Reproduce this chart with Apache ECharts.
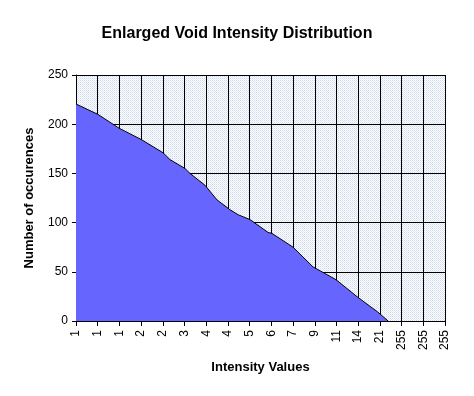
<!DOCTYPE html>
<html>
<head>
<meta charset="utf-8">
<script src="https://cdn.jsdelivr.net/npm/echarts@6/dist/echarts.min.js"></script>
<style>html,body{margin:0;padding:0;background:#fff;}#c{width:474px;height:396px;}</style>
</head>
<body>
<div id="c"></div>
<script>
// Category tick labels along the x axis
var tickLabels = ['1','1','1','2','2','3','4','4','5','6','7','9','11','14','21','255','255','255'];
// Curve positions (in tick-interval units) and occurrence counts
var positions = [0, 1.01, 1.98, 3.04, 3.41, 4.01, 4.33, 5.02, 5.25, 5.94, 6.5, 7.1, 7.47, 8.02, 8.34, 8.85, 9.03, 10.0, 10.92, 11.98, 12.99, 13.91, 14.38];
var counts    = [220.5, 210, 196, 184, 179, 171, 164, 155, 150, 138, 123, 113, 108, 103, 98, 90, 89, 75, 55, 42, 24, 9, 0];
var yTicks = [0, 50, 100, 150, 200, 250];

var data = positions.map(function(p, i){ return [p, counts[i]]; });

var pc = document.createElement('canvas');
pc.width = 2; pc.height = 2;
var ctx = pc.getContext('2d');
ctx.fillStyle = '#ffffff'; ctx.fillRect(0,0,2,2);
ctx.fillStyle = '#cbd8f2'; ctx.fillRect(0,0,1,1);
ctx.fillStyle = '#e4e8f4'; ctx.fillRect(1,1,1,1);

var chart = echarts.init(document.getElementById('c'), null, {renderer:'canvas'});
chart.setOption({
  animation: false,
  title: {
    text: 'Enlarged Void Intensity Distribution',
    left: 'center', top: 21,
    textStyle: {fontFamily: 'Arial, Liberation Sans', fontSize: 16, fontWeight: 'bold', color: '#000'}
  },
  grid: {
    left: 76, right: 29, top: 75, bottom: 75,
    show: true, borderWidth: 0,
    backgroundColor: {image: pc, repeat: 'repeat'}
  },
  xAxis: {
    type: 'value', min: 0, max: tickLabels.length - 1, interval: 1,
    name: 'Intensity Values', nameLocation: 'middle', nameGap: 40,
    nameTextStyle: {fontFamily: 'Arial, Liberation Sans', fontSize: 13, fontWeight: 'bold', color: '#000'},
    axisLine: {show: true, lineStyle: {color: '#000', width: 1}},
    axisTick: {show: true, length: 5, lineStyle: {color: '#000'}},
    axisLabel: {
      rotate: 90, margin: 9, color: '#000',
      fontFamily: 'Arial, Liberation Sans', fontSize: 12,
      formatter: function(v){ return tickLabels[Math.round(v)]; }
    },
    splitLine: {show: true, lineStyle: {color: '#000', width: 1}}
  },
  yAxis: {
    type: 'value', min: yTicks[0], max: yTicks[yTicks.length-1], interval: 50,
    name: 'Number of occurences', nameLocation: 'middle', nameGap: 40,
    nameTextStyle: {fontFamily: 'Arial, Liberation Sans', fontSize: 13, fontWeight: 'bold', color: '#000'},
    axisLine: {show: true, lineStyle: {color: '#000', width: 1}},
    axisTick: {show: true, length: 4, lineStyle: {color: '#000'}},
    axisLabel: {color: '#000', fontFamily: 'Arial, Liberation Sans', fontSize: 12, margin: 8},
    splitLine: {show: true, lineStyle: {color: '#000', width: 1}}
  },
  series: [{
    type: 'line', data: data, symbol: 'none',
    lineStyle: {color: '#000', width: 1},
    areaStyle: {color: '#6666ff', opacity: 1},
    z: 3
  }]
});
</script>
</body>
</html>
